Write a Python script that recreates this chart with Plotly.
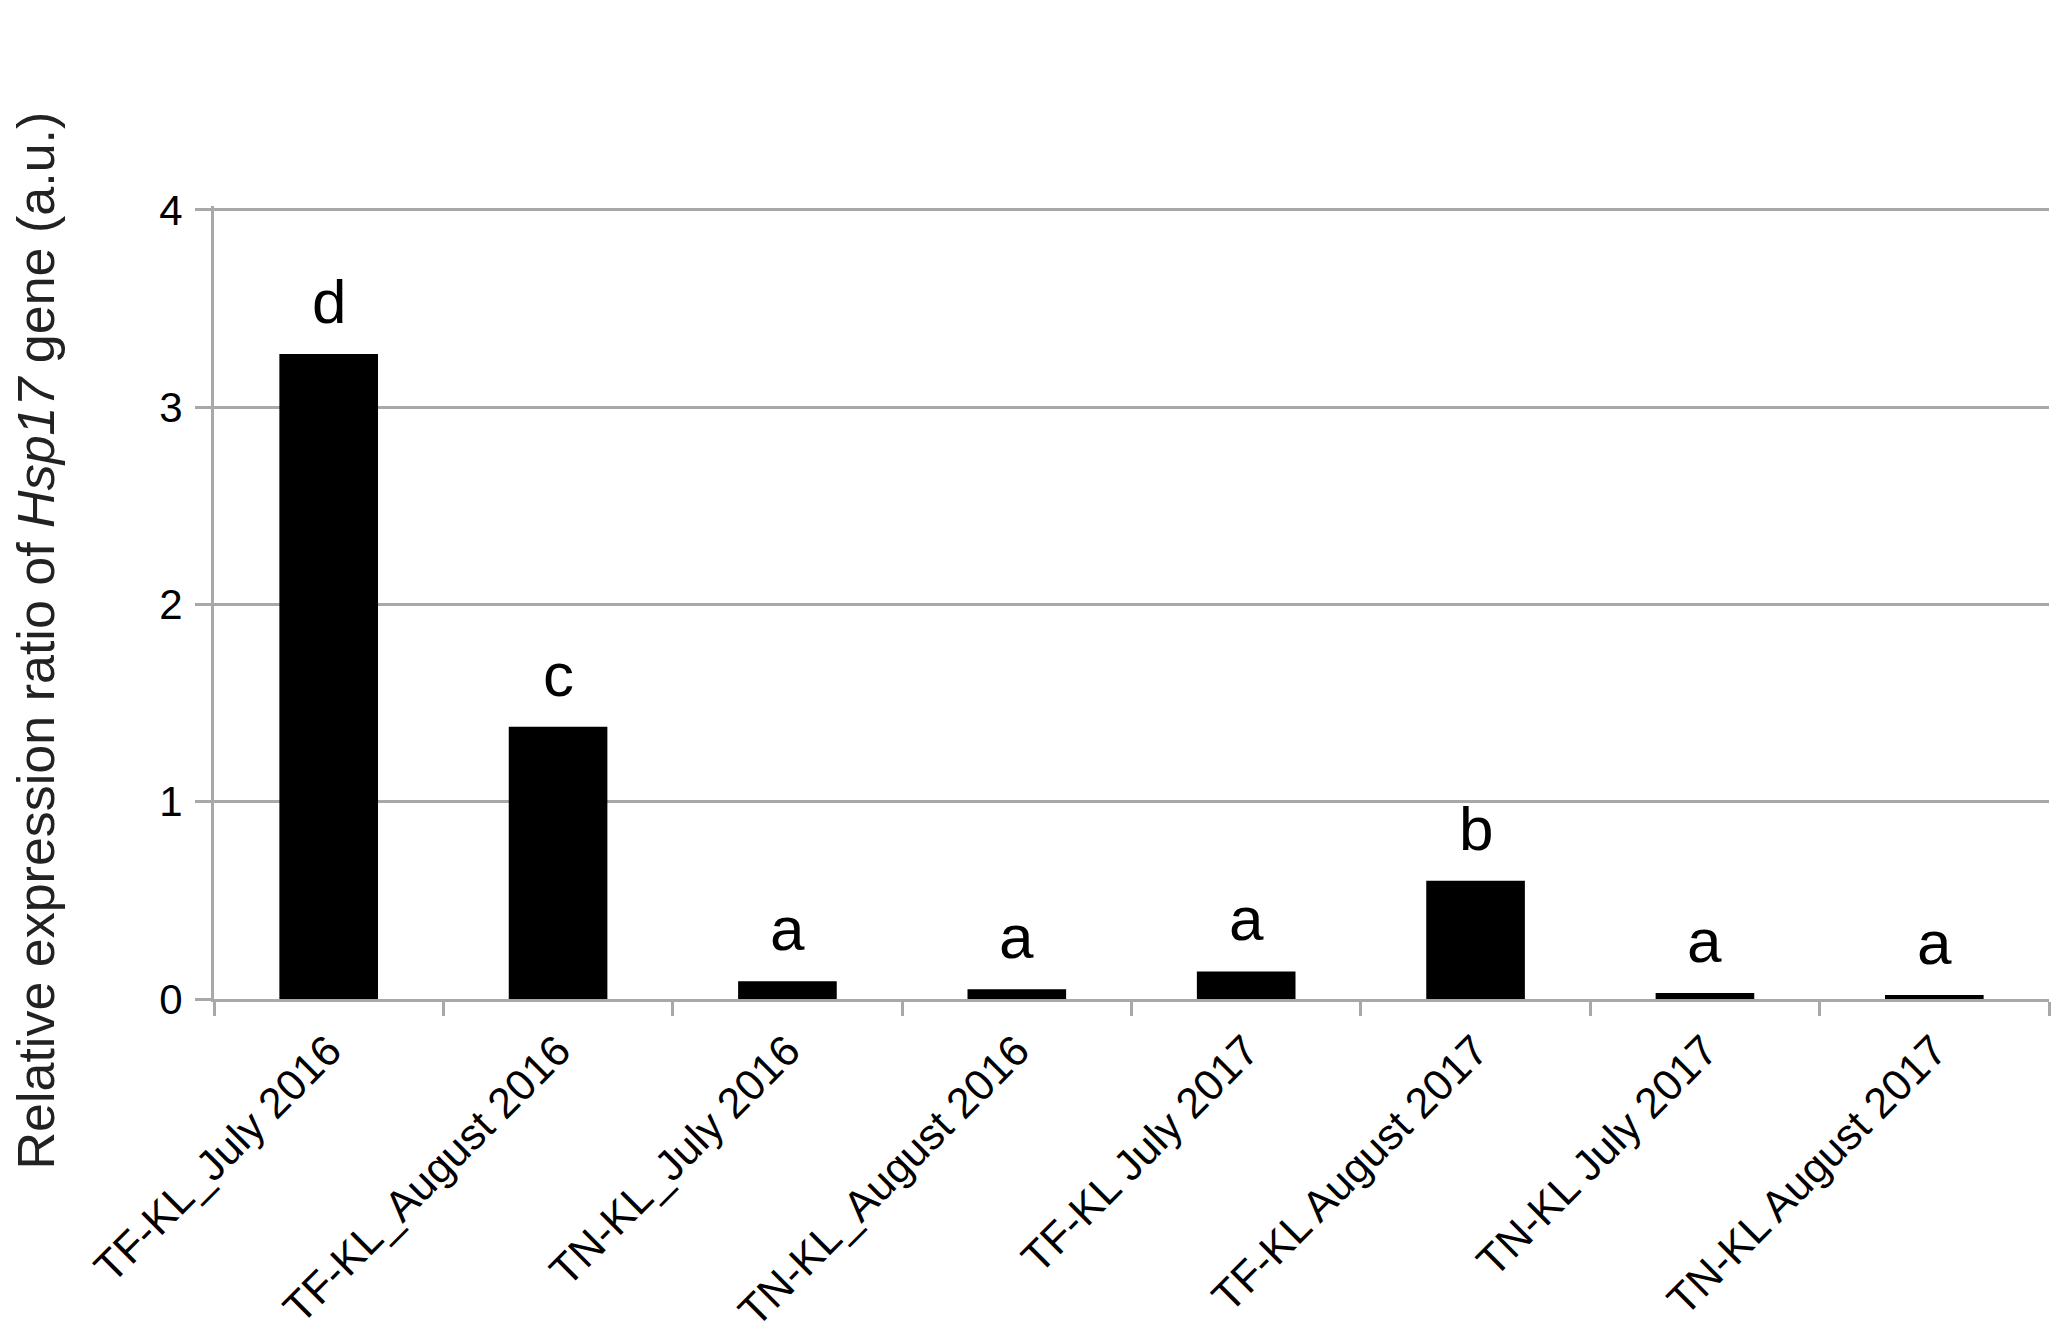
import plotly.graph_objects as go

# samples along the x axis
categories = [
    "TF-KL_July 2016", "TF-KL_August 2016", "TN-KL_July 2016", "TN-KL_August 2016",
    "TF-KL July 2017", "TF-KL August 2017", "TN-KL July 2017", "TN-KL August 2017",
]
# relative expression ratio of Hsp17 (a.u.)
expression = [3.27, 1.38, 0.09, 0.05, 0.14, 0.60, 0.03, 0.02]
# significance letters above the bars
letters = ["d", "c", "a", "a", "a", "b", "a", "a"]

y_ticks = [0, 1, 2, 3, 4]

FONT = "Arial, Liberation Sans, sans-serif"
GREY = "#a8a8a8"

fig = go.Figure()

fig.add_trace(go.Bar(
    x=categories,
    y=expression,
    width=0.43,
    marker=dict(color="black", line=dict(width=0)),
    hoverinfo="x+y",
))

# letters above each bar
for cat, val, lab in zip(categories, expression, letters):
    fig.add_annotation(
        x=cat, y=val, text=lab, showarrow=False,
        yanchor="bottom", yshift=16,
        font=dict(size=62, color="black", family=FONT),
    )

fig.update_xaxes(
    automargin=False,
    tickson="boundaries",
    ticks="outside",
    ticklen=14,
    tickwidth=3,
    tickcolor=GREY,
    showline=True,
    linecolor=GREY,
    linewidth=3,
    showgrid=False,
    tickangle=-45,
    ticklabelstandoff=6,
    tickfont=dict(size=43, color="black", family=FONT),
)

# a little headroom above 4 so plotly keeps the top gridline
fig.update_yaxes(
    automargin=False,
    range=[0, 4.02],
    tickvals=y_ticks,
    ticks="outside",
    ticklen=16,
    tickwidth=3,
    tickcolor=GREY,
    showline=True,
    linecolor=GREY,
    linewidth=3,
    showgrid=True,
    gridcolor=GREY,
    gridwidth=3,
    zeroline=False,
    ticklabelstandoff=4,
    tickfont=dict(size=42, color="black", family=FONT),
)

# y title as a free annotation so it can sit above the plot centre like the original
fig.add_annotation(
    text="Relative expression ratio of <i>Hsp17</i> gene (a.u.)",
    xref="paper", yref="paper", x=-0.097, y=0.452,
    xanchor="center", yanchor="middle", textangle=-90, showarrow=False,
    font=dict(size=52, color="#222222", family=FONT),
)

fig.update_layout(
    width=2069,
    height=1332,
    autosize=False,
    plot_bgcolor="white",
    paper_bgcolor="white",
    margin=dict(l=206, r=28, t=198, b=341),
    showlegend=False,
)

fig.write_html("out.html")
